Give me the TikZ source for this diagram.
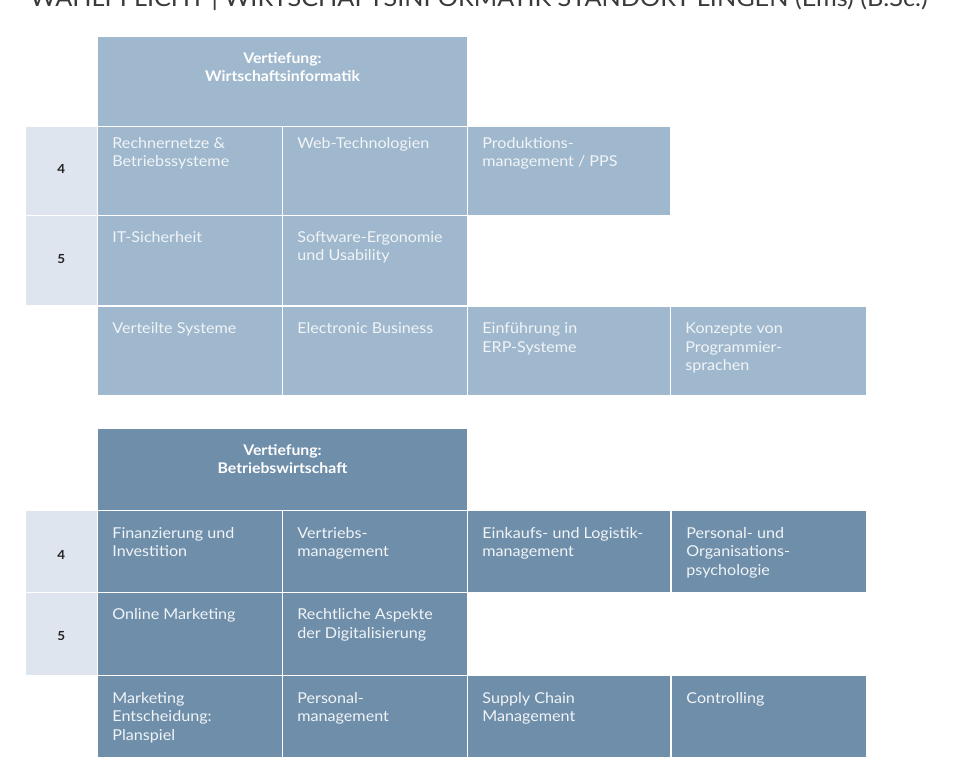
\documentclass[tikz,border=0pt]{standalone}
\usepackage{fontspec}
\setmainfont{Lato}[FakeStretch=1.075]
\definecolor{wi}{HTML}{9FB8CD}
\definecolor{bw}{HTML}{6E8EAA}
\definecolor{sem}{HTML}{DFE5EE}
\definecolor{celltxt}{HTML}{F1F4F7}
\definecolor{titletxt}{HTML}{3A3A3A}
\definecolor{numtxt}{HTML}{222222}
\tikzset{
  box/.style={draw=none, inner sep=0pt, outer sep=0pt, anchor=north west},
  celltext/.style={inner sep=0pt, outer sep=0pt, anchor=north west, align=left,
    text=celltxt, font=\fontsize{15}{18.4}\selectfont},
  hdrtext/.style={inner sep=0pt, outer sep=0pt, anchor=north, align=center,
    text=white, font=\fontsize{14.7}{18.4}\selectfont\bfseries},
  numtext/.style={inner sep=0pt, outer sep=0pt, anchor=center,
    text=numtxt, font=\fontsize{12.5}{14}\selectfont\bfseries},
}
% name, x0, y0, x1, y1, colour, baseline offset, text
\newcommand\cellbox[8]{%
  \node[box, fill=#6, minimum width={(#4-#2)*1pt}, minimum height={(#5-#3)*1pt}] (#1) at (#2,#3) {};
  \node[celltext] (#1t) at ([xshift=14.4pt, yshift={-(#7-14)*1pt}]#1.north west) {\rule{0pt}{14pt}#8};
}
% name, x0, y0, x1, y1, colour, text
\newcommand\hdrbox[7]{%
  \node[box, fill=#6, minimum width={(#4-#2)*1pt}, minimum height={(#5-#3)*1pt}] (#1) at (#2,#3) {};
  \node[hdrtext] (#1t) at ([yshift={-(26.3-14)*1pt}]#1.north) {\rule{0pt}{14pt}#7};
}
% name, y0, y1, number centre y, number
\newcommand\sembox[5]{%
  \node[box, fill=sem, minimum width=71pt, minimum height={(#3-#2)*1pt}] (#1) at (26,#2) {};
  \node[numtext] (#1n) at (61.3,#4) {#5};
}
\begin{document}
\begin{tikzpicture}[x=1pt, y=-1pt]
\useasboundingbox (0,0) rectangle (969,783);
\clip (0,0) rectangle (969,783);
\fill[white] (0,0) rectangle (969,783);

% cut-off title
\node[anchor=base west, inner sep=0pt, text=titletxt] (title) at (30,6.8)
  {\resizebox{897pt}{!}{\fontsize{26}{30}\selectfont WAHLPFLICHT | WIRTSCHAFTSINFORMATIK STANDORT LINGEN (Ems) (B.Sc.)}};

% ---------- Vertiefung Wirtschaftsinformatik ----------
\hdrbox{hwi}{98}{37}{467}{126}{wi}{Vertiefung:\\Wirtschaftsinformatik}
\sembox{swi4}{127}{215}{168.8}{4}
\sembox{swi5}{216}{305.5}{259.5}{5}
\cellbox{wa1}{98}{127}{282}{215}{wi}{21.5}{Rechnernetze \&\\Betriebssysteme}
\cellbox{wa2}{283}{127}{467}{215}{wi}{21.5}{Web-Technologien}
\cellbox{wa3}{468}{127}{670}{215}{wi}{21.5}{Produktions-\\management / PPS}
\cellbox{wb1}{98}{216}{282}{305.5}{wi}{26.5}{IT-Sicherheit}
\cellbox{wb2}{283}{216}{467}{305.5}{wi}{26.5}{Software-Ergonomie\\und Usability}
\cellbox{wc1}{98}{307}{282}{395}{wi}{26.7}{Verteilte Systeme}
\cellbox{wc2}{283}{307}{467}{395}{wi}{26.7}{Electronic Business}
\cellbox{wc3}{468}{307}{670}{395}{wi}{26.7}{Einführung in\\ERP-Systeme}
\cellbox{wc4}{671}{307}{866}{395}{wi}{26.7}{Konzepte von\\Programmier-\\sprachen}

% ---------- Vertiefung Betriebswirtschaft ----------
\hdrbox{hbw}{98}{429}{467}{510}{bw}{Vertiefung:\\Betriebswirtschaft}
\sembox{sbw4}{511}{592}{555}{4}
\sembox{sbw5}{593}{675}{636.3}{5}
\cellbox{ba1}{98}{511}{282}{592}{bw}{27.3}{Finanzierung und\\Investition}
\cellbox{ba2}{283}{511}{467}{592}{bw}{27.3}{Vertriebs-\\management}
\cellbox{ba3}{468}{511}{670}{592}{bw}{27.3}{Einkaufs- und Logistik-\\management}
\cellbox{ba4}{672}{511}{866}{592}{bw}{27.3}{Personal- und\\Organisations-\\psychologie}
\cellbox{bb1}{98}{593}{282}{675}{bw}{26.8}{Online Marketing}
\cellbox{bb2}{283}{593}{467}{675}{bw}{26.8}{Rechtliche Aspekte\\der Digitalisierung}
\cellbox{bc1}{98}{676}{282}{757}{bw}{27.3}{Marketing\\Entscheidung:\\Planspiel}
\cellbox{bc2}{283}{676}{467}{757}{bw}{27.3}{Personal-\\management}
\cellbox{bc3}{468}{676}{670}{757}{bw}{27.3}{Supply Chain\\Management}
\cellbox{bc4}{672}{676}{866}{757}{bw}{27.3}{Controlling}
\end{tikzpicture}
\end{document}
